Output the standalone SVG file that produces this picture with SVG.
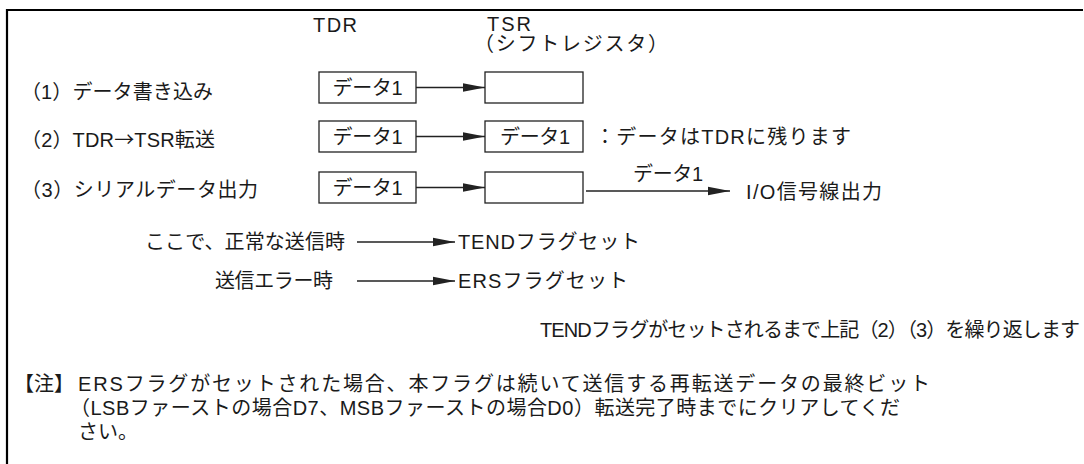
<svg xmlns="http://www.w3.org/2000/svg" width="1084" height="464" viewBox="0 0 1084 464">
<style>
text{font-family:"Liberation Sans","Noto Sans CJK JP",sans-serif;font-size:20px;fill:#1a1a1a}
.cjk{font-family:"Noto Sans CJK JP",sans-serif}
.box{fill:#fff;stroke:#222;stroke-width:1.3}
.ln{stroke:#222;stroke-width:1.3;fill:none}
</style>
<defs>
<marker id="ah" markerWidth="24" markerHeight="10" refX="22" refY="5" orient="auto" markerUnits="userSpaceOnUse">
<path d="M0,0.8 L22,5 L0,9.2 Z" fill="#222"/>
</marker>
</defs>
<rect width="1084" height="464" fill="#fff"/>
<path d="M1083,10 H7 V464" fill="none" stroke="#000" stroke-width="2.2"/>

<g id="labels">
<text x="313" y="32" textLength="44">TDR</text>
<text x="487" y="31" textLength="44">TSR</text>
<text x="474" y="51" textLength="194">（シフトレジスタ）</text>
<text x="21" y="99" textLength="192">（1）データ書き込み</text>
<text x="21" y="147" textLength="194">（2）TDR<tspan class="cjk">→</tspan>TSR転送</text>
<text x="21" y="197" textLength="237">（3）シリアルデータ出力</text>
<text x="595" y="144" textLength="256">：データはTDRに残ります</text>
</g>

<g id="tdr1"><rect class="box" x="319" y="72" width="97" height="31"/><text x="367.5" y="95" text-anchor="middle" textLength="70">データ1</text></g>
<g id="tsr1"><rect class="box" x="485" y="72" width="98" height="31"/></g>
<g id="tdr2"><rect class="box" x="319" y="121" width="97" height="31"/><text x="367.5" y="144" text-anchor="middle" textLength="70">データ1</text></g>
<g id="tsr2"><rect class="box" x="485" y="121" width="98" height="31"/><text x="535" y="144" text-anchor="middle" textLength="70">データ1</text></g>
<g id="tdr3"><rect class="box" x="319" y="172" width="97" height="31"/><text x="367.5" y="195" text-anchor="middle" textLength="70">データ1</text></g>
<g id="tsr3"><rect class="box" x="485" y="172" width="98" height="31"/></g>
<g id="out"><text x="668" y="181" text-anchor="middle" textLength="70">データ1</text><text x="746" y="199" textLength="136">I/O信号線出力</text></g>

<g id="flags">
<text x="345" y="249" text-anchor="end" textLength="200">ここで、正常な送信時</text>
<text x="458" y="249" textLength="182">TENDフラグセット</text>
<text x="333" y="288" text-anchor="end" textLength="118">送信エラー時</text>
<text x="458" y="288" textLength="170">ERSフラグセット</text>
<text x="540" y="337" textLength="540">TENDフラグがセットされるまで上記（2）（3）を繰り返します</text>
</g>

<g id="note">
<text x="14" y="391">【注】</text>
<text x="78" y="391" textLength="852">ERSフラグがセットされた場合、本フラグは続いて送信する再転送データの最終ビット</text>
<text x="70" y="415" textLength="830">（LSBファーストの場合D7、MSBファーストの場合D0）転送完了時までにクリアしてくだ</text>
<text x="78" y="439">さい。</text>
</g>

<g id="connectors">
<line class="ln" x1="416" y1="87.5" x2="485" y2="87.5" marker-end="url(#ah)"/>
<line class="ln" x1="416" y1="136.5" x2="485" y2="136.5" marker-end="url(#ah)"/>
<line class="ln" x1="416" y1="187.5" x2="485" y2="187.5" marker-end="url(#ah)"/>
<line class="ln" x1="586" y1="191" x2="730" y2="191" marker-end="url(#ah)"/>
<line class="ln" x1="357" y1="242" x2="455" y2="242" marker-end="url(#ah)"/>
<line class="ln" x1="357" y1="281" x2="455" y2="281" marker-end="url(#ah)"/>
</g>
</svg>
